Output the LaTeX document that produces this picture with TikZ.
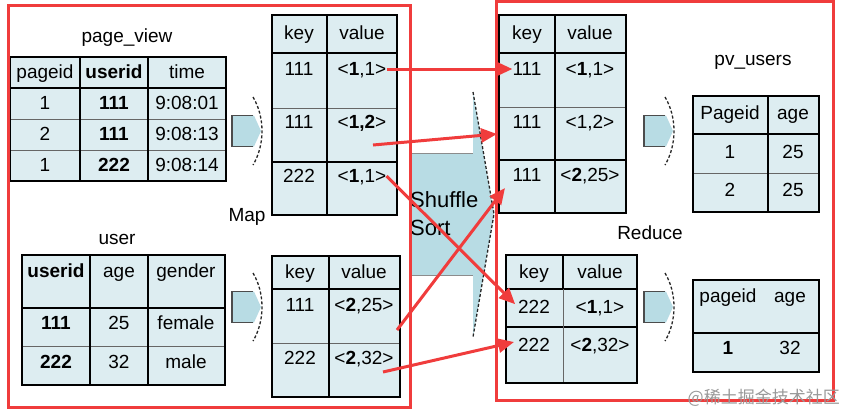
\documentclass[tikz,border=0pt]{standalone}
\usepackage{fontspec}
\setmainfont{Liberation Sans}
\newfontfamily\cjkfont{Noto Sans CJK SC}
\usetikzlibrary{arrows.meta}

\definecolor{tabblue}{RGB}{221,237,241}
\definecolor{arrowblue}{RGB}{184,220,228}
\definecolor{markred}{RGB}{240,60,60}

\begin{document}
\begin{tikzpicture}[x=1pt, y=-1pt,
    txt/.style={font=\fontsize{19}{22}\selectfont, inner sep=0pt, text height=13.6pt, text depth=0pt},
    bigtxt/.style={font=\fontsize{22}{26}\selectfont, inner sep=0pt, text height=15.8pt, text depth=0pt, anchor=west},
    tab/.style={fill=tabblue},
    frame/.style={draw=black, line width=2.2pt},
    colline/.style={draw=black, line width=1.4pt},
    rowline/.style={draw=black!60, line width=1pt},
    redbox/.style={draw=markred, line width=3pt},
    redarrow/.style={-{Triangle[length=16pt,width=14pt]}, draw=markred, line width=3pt},
    flow/.style={fill=arrowblue},
    flowedge/.style={draw=black!70, line width=1.2pt},
    flowhead/.style={draw=black!85, dashed, dash pattern=on 3pt off 2pt, line width=1.3pt}
]
\useasboundingbox (0,0) rectangle (848,416);

% page_view table
\node[txt] (pvtitle) at (127,36) {page\_view};
\fill[tab] (10,57) rectangle (226,181);
\draw[rowline] (10,119) -- (226,119) (10,150) -- (226,150);
\draw[colline] (80,57) -- (80,181) (148,57) -- (148,181) (10,88) -- (226,88);
\draw[frame] (10,57) rectangle (226,181);
\node[txt] (pvh1) at (45,72) {pageid};
\node[txt] (pvh2) at (114,72) {\textbf{userid}};
\node[txt] (pvh3) at (187,72) {time};
\node[txt] (pva1) at (45,103) {1};
\node[txt] (pva2) at (114,103) {\textbf{111}};
\node[txt] (pva3) at (187,103) {9:08:01};
\node[txt] (pvb1) at (45,134) {2};
\node[txt] (pvb2) at (114,134) {\textbf{111}};
\node[txt] (pvb3) at (187,134) {9:08:13};
\node[txt] (pvc1) at (45,165) {1};
\node[txt] (pvc2) at (114,165) {\textbf{222}};
\node[txt] (pvc3) at (187,165) {9:08:14};

% user table
\node[txt] (ustitle) at (117,238) {user};
\fill[tab] (22,255) rectangle (225,385);
\draw[rowline] (22,346) -- (225,346);
\draw[colline] (90,255) -- (90,385) (148,255) -- (148,385) (22,308) -- (225,308);
\draw[frame] (22,255) rectangle (225,385);
\node[txt] (ush1) at (56,271) {\textbf{userid}};
\node[txt] (ush2) at (119,271) {age};
\node[txt] (ush3) at (186,271) {gender};
\node[txt] (usa1) at (56,323) {\textbf{111}};
\node[txt] (usa2) at (119,323) {25};
\node[txt] (usa3) at (186,323) {female};
\node[txt] (usb1) at (56,362) {\textbf{222}};
\node[txt] (usb2) at (119,362) {32};
\node[txt] (usb3) at (186,362) {male};

% block arrows
\foreach \x/\y in {232/131, 232/307, 644/131, 644/307} {
  \fill[flow] (\x,\y-15.5) -- (\x+22,\y-15.5) -- (\x+29,\y) -- (\x+22,\y+15.5) -- (\x,\y+15.5) -- cycle;
  \draw[flowedge] (\x+21,\y-15.5) -- (\x,\y-15.5) -- (\x,\y+15.5) -- (\x+21,\y+15.5);
  \draw[flowhead] (\x+21,\y-34) .. controls (\x+33,\y-14) and (\x+33,\y+14) .. (\x+21,\y+34);
}
\node[txt] (map) at (247,215) {Map};

% map output 1
\fill[tab] (272,15) rectangle (397,215);
\draw[rowline] (272,108) -- (397,108);
\draw[colline] (327,15) -- (327,215) (272,53) -- (397,53) (272,162) -- (397,162);
\draw[frame] (272,15) rectangle (397,215);
\node[txt] (mkh) at (299,33) {key};
\node[txt] (mvh) at (362,33) {value};
\node[txt] (mk1) at (299,69) {111};
\node[txt] (mv1) at (362,69) {<\textbf{1},1>};
\node[txt] (mk2) at (299,122) {111};
\node[txt] (mv2) at (362,122) {<\textbf{1,2}>};
\node[txt] (mk3) at (299,176) {222};
\node[txt] (mv3) at (362,176) {<\textbf{1},1>};

% map output 2
\fill[tab] (272,256) rectangle (400,397);
\draw[rowline] (272,343) -- (400,343);
\draw[colline] (329,256) -- (329,397) (272,289) -- (400,289);
\draw[frame] (272,256) rectangle (400,397);
\node[txt] (nkh) at (300,272) {key};
\node[txt] (nvh) at (364,272) {value};
\node[txt] (mk4) at (300,305) {111};
\node[txt] (mv4) at (364,305) {<\textbf{2},25>};
\node[txt] (mk5) at (300,358) {222};
\node[txt] (mv5) at (364,358) {<\textbf{2},32>};

% shuffle
\fill[flow] (411,153) -- (473,153) -- (473,92) -- (494,214) -- (473,337) -- (473,275) -- (411,275) -- cycle;
\draw[draw=black!45, line width=1pt] (411,153) -- (473,153) (411,275) -- (473,275);
\draw[flowhead] (473,92) -- (494,214) -- (473,337);
\node[bigtxt] (shuffle) at (410,200) {Shuffle};
\node[bigtxt] (sort) at (410,228) {Sort};

% reduce input 1
\fill[tab] (499,15) rectangle (626,213);
\draw[rowline] (499,107) -- (626,107);
\draw[colline] (555,15) -- (555,213) (499,53) -- (626,53) (499,160) -- (626,160);
\draw[frame] (499,15) rectangle (626,213);
\node[txt] (rkh) at (527,33) {key};
\node[txt] (rvh) at (590,33) {value};
\node[txt] (rk1) at (527,69) {111};
\node[txt] (rv1) at (590,69) {<\textbf{1},1>};
\node[txt] (rk2) at (527,122) {111};
\node[txt] (rv2) at (590,122) {<1,2>};
\node[txt] (rk3) at (527,175) {111};
\node[txt] (rv3) at (590,175) {<\textbf{2},25>};

% reduce input 2
\fill[tab] (506,255) rectangle (637,383);
\draw[colline] (563,255) -- (563,289) (506,289) -- (637,289) (506,327) -- (637,327);
\draw[rowline] (563,289) -- (563,383);
\draw[frame] (506,255) rectangle (637,383);
\node[txt] (skh) at (534,272) {key};
\node[txt] (svh) at (600,272) {value};
\node[txt] (rk4) at (534,307) {222};
\node[txt] (rv4) at (600,307) {<\textbf{1},1>};
\node[txt] (rk5) at (534,345) {222};
\node[txt] (rv5) at (600,345) {<\textbf{2},32>};
\node[txt] (reduce) at (650,233) {Reduce};

% pv_users
\node[txt] (putitle) at (753,59) {pv\_users};
\fill[tab] (693,96) rectangle (819,212);
\draw[rowline] (693,173) -- (819,173);
\draw[colline] (768,96) -- (768,212) (693,134) -- (819,134);
\draw[frame] (693,96) rectangle (819,212);
\node[txt] (puh1) at (730,113) {Pageid};
\node[txt] (puh2) at (793,113) {age};
\node[txt] (pua1) at (730,152) {1};
\node[txt] (pua2) at (793,152) {25};
\node[txt] (pub1) at (730,190) {2};
\node[txt] (pub2) at (793,190) {25};

\fill[tab] (693,280) rectangle (819,372);
\draw[colline] (693,333) -- (819,333);
\draw[frame] (693,280) rectangle (819,372);
\node[txt] (qvh1) at (728,296) {pageid};
\node[txt] (qvh2) at (790,296) {age};
\node[txt] (qva1) at (728,348) {\textbf{1}};
\node[txt] (qva2) at (790,348) {32};

% red marks
\draw[redbox] (8,5) rectangle (410,407);
\draw[redbox] (496,1.5) rectangle (833,400);
\coordinate (a2s) at (373,145);
\coordinate (a2e) at (497,134);
\coordinate (a4s) at (397,330);
\coordinate (a4e) at (505,188);
\coordinate (a5s) at (383,372);
\coordinate (a5e) at (514,342);
\draw[redarrow] (mv1.east) -- (rk1.west);
\draw[redarrow] (a2s) -- (a2e);
\draw[redarrow, shorten >=4pt] (mv3.east) -- (rk4.west);
\draw[redarrow] (a4s) -- (a4e);
\draw[redarrow] (a5s) -- (a5e);

\node[font=\cjkfont\fontsize{17}{20}\selectfont, text=black!40, anchor=east, inner sep=0pt] (mark) at (840,398) {@稀土掘金技术社区};
\end{tikzpicture}
\end{document}
